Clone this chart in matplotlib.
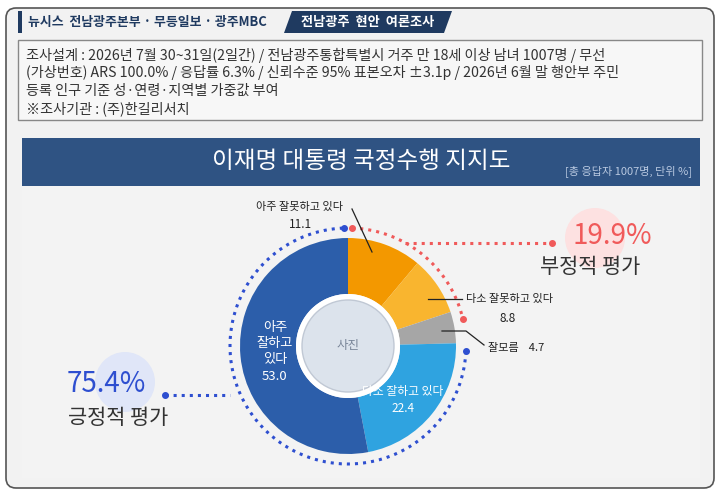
import matplotlib
matplotlib.use("Agg")
import matplotlib.pyplot as plt
from matplotlib.patches import FancyBboxPatch, Rectangle, Polygon, Circle, Wedge
import numpy as np

plt.rcParams['font.family'] = ['Noto Sans CJK KR', 'DejaVu Sans']

labels = ['아주 잘못하고 있다', '다소 잘못하고 있다', '잘모름', '다소 잘하고 있다', '아주 잘하고 있다']
values = [11.1, 8.8, 4.7, 22.4, 53.0]
colors = ['#F39800', '#F9B52F', '#A6A6A6', '#2FA3E0', '#2C5EAA']
neg_total = 19.9
pos_total = 75.4

H = 495
fig = plt.figure(figsize=(7.2, 4.95), dpi=100)
ax = fig.add_axes([0, 0, 1, 1])
ax.set_xlim(0, 720); ax.set_ylim(0, H); ax.axis('off')
Y = lambda py: H - py

fig.patch.set_facecolor('white')
ax.add_patch(FancyBboxPatch((6, Y(488)), 708, 480, boxstyle="round,pad=0,rounding_size=10",
                            fc='#F2F2F2', ec='#555555', lw=1.2))
# header
ax.add_patch(Rectangle((18, Y(33)), 4, 22, fc='#1F3A60', ec='none'))
ax.text(28, Y(22), '뉴시스  전남광주본부 · 무등일보 · 광주MBC', fontsize=9.3, color='#1F3A60',
        fontweight='bold', va='center')
ax.add_patch(Polygon([(292, Y(11)), (452, Y(11)), (444, Y(33)), (284, Y(33))], closed=True, fc='#1F3A60'))
ax.text(368, Y(22), '전남광주  현안  여론조사', fontsize=9.5, color='white', fontweight='bold',
        va='center', ha='center')
# survey box
ax.add_patch(Rectangle((18, Y(120)), 684, 80, fc='#F7F7F7', ec='#888888', lw=1))
lines = ['조사설계 : 2026년 7월 30~31일(2일간) / 전남광주통합특별시 거주 만 18세 이상 남녀 1007명 / 무선',
         '(가상번호) ARS 100.0% / 응답률 6.3% / 신뢰수준 95% 표본오차 ±3.1p / 2026년 6월 말 행안부 주민',
         '등록 인구 기준 성·연령·지역별 가중값 부여',
         '※조사기관 : (주)한길리서치']
for i, l in enumerate(lines):
    ax.text(26, Y(55 + i * 18), l, fontsize=10.2, color='#333333', va='center')
# panel
ax.add_patch(Rectangle((22, Y(478)), 678, 340, fc='#F3F3F3', ec='none'))
ax.add_patch(Rectangle((22, Y(186)), 678, 48, fc='#2F5383', ec='none'))
ax.text(361, Y(162), '이재명 대통령 국정수행 지지도', fontsize=17, color='white', va='center', ha='center')
ax.text(692, Y(171), '[총 응답자 1007명, 단위 %]', fontsize=8, color='#B8C8E0', va='center', ha='right')

# donut
cx, cy, R, r = 348, Y(346), 108, 52
ang = 90
for v, c in zip(values, colors):
    span = v / 100 * 360
    ax.add_patch(Wedge((cx, cy), R, ang - span, ang, width=R - r, fc=c, ec='none'))
    ang -= span
ax.add_patch(Circle((cx, cy), r, fc='white', ec='none'))
ax.add_patch(Circle((cx, cy), r - 6, fc='#DCE3EC', ec='#C0C8D4'))
ax.text(cx, cy, '사진', fontsize=9, color='#7A8699', ha='center', va='center')

# dotted arcs
Ra = 118
def P(a):
    return cx + Ra * np.cos(np.radians(a)), cy + Ra * np.sin(np.radians(a))
rs, re = 88, 90 - neg_total * 3.6 - 5
t = np.linspace(rs, re, 80)
ax.plot(*P(t), ls=':', color='#F05A5A', lw=2.2)
bs = 90 - (neg_total + 4.7) * 3.6 - 4
be = 92 - 360
t = np.linspace(bs, be, 300)
ax.plot(*P(t), ls=':', color='#2E4FD0', lw=2.2)
for a, col in [(rs, '#F05A5A'), (re, '#F05A5A'), (bs, '#2E4FD0'), (be, '#2E4FD0')]:
    ax.plot(*P(a), 'o', color=col, ms=4)

# negative label
ax.add_patch(Circle((595, Y(238)), 30, fc='#FDE1E1', ec='none'))
ax.plot([405, 552], [Y(243), Y(243)], ls=':', color='#F05A5A', lw=2.2)
ax.plot(552, Y(243), 'o', color='#F05A5A', ms=4)
ax.text(612, Y(236), f'{neg_total}%', fontsize=20, color='#F05A5A', ha='center', va='center')
ax.text(590, Y(267), '부정적 평가', fontsize=15, color='#333333', ha='center', va='center', fontweight='medium')
# positive label
ax.add_patch(Circle((125, Y(382)), 30, fc='#E0E6F8', ec='none'))
ax.plot([165, cx - Ra], [Y(395), Y(395)], ls=':', color='#2E4FD0', lw=2.2)
ax.plot(165, Y(395), 'o', color='#2E4FD0', ms=4)
ax.text(106, Y(384), f'{pos_total}%', fontsize=20, color='#2E4FD0', ha='center', va='center')
ax.text(118, Y(418), '긍정적 평가', fontsize=15, color='#333333', ha='center', va='center', fontweight='medium')

# slice labels
ax.text(300, Y(207), labels[0], fontsize=8, color='#222', ha='center', va='center')
ax.text(300, Y(225), f'{values[0]}', fontsize=8.5, color='#222', ha='center', va='center')
ax.plot([352, 372], [Y(209), Y(252)], color='#222', lw=0.9)
ax.text(466, Y(299), labels[1], fontsize=8, color='#222', ha='left', va='center')
ax.text(508, Y(318), f'{values[1]}', fontsize=8.5, color='#222', ha='center', va='center')
ax.plot([428, 462], [Y(299), Y(299)], color='#222', lw=0.9)
ax.text(488, Y(348), labels[2] + '    ' + f'{values[2]}', fontsize=8, color='#222', ha='left', va='center')
ax.plot([442, 466, 484], [Y(331), Y(331), Y(345)], color='#222', lw=0.9)
ax.text(403, Y(391), labels[3], fontsize=8.5, color='white', ha='center', va='center')
ax.text(403, Y(408), f'{values[3]}', fontsize=8.5, color='white', ha='center', va='center')
ax.text(275, Y(352), '아주\n잘하고\n있다\n53.0', fontsize=9.5, color='white', ha='center', va='center', linespacing=1.3)

fig.savefig('out.png', dpi=100, facecolor='white')
